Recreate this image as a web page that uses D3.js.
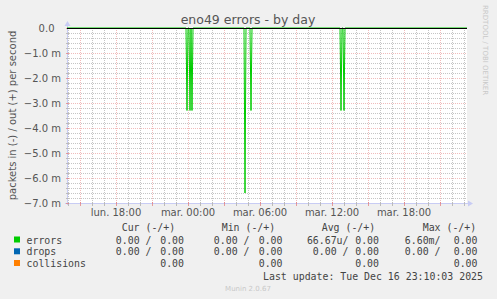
<!DOCTYPE html>
<html>
<head>
<meta charset="utf-8">
<script src="https://cdn.jsdelivr.net/npm/d3@7"></script>
<style>
  body { margin: 0; background: #f0f0f0; }
  svg { display: block; }
  text { font-family: "DejaVu Sans", sans-serif; }
  .mono { font-family: "DejaVu Sans Mono", monospace; font-size: 9.9px; fill: #444; }
</style>
</head>
<body>
<div id="chart"></div>
<script>
// Svg defs
let w = 497,
    h = 299;
let plot = { x0: 67, x1: 467, y0: 28, y1: 203 };

// Data defs
let title = "eno49 errors - by day";
let yLabel = "packets in (-) / out (+) per second";
let startTime = "2025-12-15 13:55";
let endTime = "2025-12-16 23:15";
// error spikes on the "in" side (packets/s, drawn negative)
let errorTimes = ["2025-12-15 23:55", "2025-12-16 00:10", "2025-12-16 00:20",
                  "2025-12-16 04:45", "2025-12-16 05:15",
                  "2025-12-16 12:45", "2025-12-16 13:00"];
let errorValues = [-0.0033, -0.0033, -0.0033, -0.0066, -0.0033, -0.0033, -0.0033];
let yTicks = [0, -0.001, -0.002, -0.003, -0.004, -0.005, -0.006, -0.007];
let xLabelTimes = ["2025-12-15 18:00", "2025-12-16 00:00", "2025-12-16 06:00",
                   "2025-12-16 12:00", "2025-12-16 18:00"];

// Legend
let legendNames = ["errors", "drops", "collisions"];
let legendColors = ["#00cc00", "#0066b3", "#ff8000"];
let legendHeaders = ["Cur (-/+)", "Min (-/+)", "Avg (-/+)", "Max (-/+)"];
let legendIn = [
  ["0.00 /", "0.00 /", "66.67u/", "6.60m/"],
  ["0.00 /", "0.00 /", "0.00 /", "0.00 /"],
  null
];
let legendOut = [
  ["0.00", "0.00", "0.00", "0.00"],
  ["0.00", "0.00", "0.00", "0.00"],
  ["0.00", "0.00", "0.00", "0.00"]
];
let lastUpdate = "Last update: Tue Dec 16 23:10:03 2025";

let parse = d3.timeParse("%Y-%m-%d %H:%M");
let fr = d3.timeFormatLocale({
  dateTime: "%A %e %B %Y à %X", date: "%d/%m/%Y", time: "%H:%M:%S",
  periods: ["AM", "PM"],
  days: ["dimanche","lundi","mardi","mercredi","jeudi","vendredi","samedi"],
  shortDays: ["dim.","lun.","mar.","mer.","jeu.","ven.","sam."],
  months: ["janvier","février","mars","avril","mai","juin","juillet","août","septembre","octobre","novembre","décembre"],
  shortMonths: ["janv.","févr.","mars","avr.","mai","juin","juil.","août","sept.","oct.","nov.","déc."]
});
let fmt = fr.format("%a %H:%M");

let x = d3.scaleTime()
  .domain([parse(startTime), parse(endTime)])
  .range([plot.x0, plot.x1]);
let y = d3.scaleLinear()
  .domain([-0.007, 0])
  .range([plot.y1, plot.y0]);

let svg = d3.select("#chart")
  .append("svg")
  .attr("width", w)
  .attr("height", h)
  .attr("viewBox", [0, 0, w, h]);

svg.append("rect").attr("width", w).attr("height", h).attr("fill", "#f0f0f0");
svg.append("rect")
  .attr("x", plot.x0).attr("y", plot.y0)
  .attr("width", plot.x1 - plot.x0).attr("height", plot.y1 - plot.y0)
  .attr("fill", "#ffffff");

// Grid
let px = (t) => Math.round(x(t)) + 0.5;
let py = (v) => Math.round(y(v)) + 0.5;
let hours = d3.timeHour.every(1).range(...x.domain());
let minorY = d3.range(0, 36).map((i) => -i * 0.0002);
let minorColor = "rgba(150,150,150,0.55)";
let majorColor = "rgba(225,120,120,0.5)";

let grid = svg.append("g").attr("stroke-dasharray", "1,1").attr("stroke-width", 1);
grid.selectAll(".vmin")
  .data(hours.filter((d) => d.getHours() % 3 != 0))
  .join("line")
  .attr("x1", px).attr("x2", px)
  .attr("y1", plot.y0).attr("y2", plot.y1)
  .attr("stroke", minorColor);
grid.selectAll(".hmin")
  .data(minorY.filter((d, i) => i % 5 != 0))
  .join("line")
  .attr("x1", plot.x0).attr("x2", plot.x1)
  .attr("y1", py).attr("y2", py)
  .attr("stroke", minorColor);
grid.selectAll(".vmaj")
  .data(hours.filter((d) => d.getHours() % 3 == 0))
  .join("line")
  .attr("x1", px).attr("x2", px)
  .attr("y1", plot.y0).attr("y2", plot.y1)
  .attr("stroke", majorColor);
grid.selectAll(".hmaj")
  .data(yTicks)
  .join("line")
  .attr("x1", plot.x0).attr("x2", plot.x1)
  .attr("y1", py).attr("y2", py)
  .attr("stroke", majorColor);

// Axes
let axisColor = "#c8ccf4";
let ax = svg.append("g").attr("stroke", axisColor).attr("fill", axisColor);
ax.append("line")
  .attr("x1", plot.x0 + 0.5).attr("x2", plot.x0 + 0.5)
  .attr("y1", plot.y1 + 2).attr("y2", plot.y0 - 4);
ax.append("path")
  .attr("stroke", "none")
  .attr("d", `M${plot.x0 - 2.5},${plot.y0 - 2} L${plot.x0 + 0.5},${plot.y0 - 7} L${plot.x0 + 3.5},${plot.y0 - 2}Z`);
ax.append("line")
  .attr("x1", plot.x0 - 2).attr("x2", plot.x1 + 3)
  .attr("y1", plot.y1 + 0.5).attr("y2", plot.y1 + 0.5);
ax.append("path")
  .attr("stroke", "none")
  .attr("d", `M${plot.x1 + 1},${plot.y1 - 2.5} L${plot.x1 + 6},${plot.y1 + 0.5} L${plot.x1 + 1},${plot.y1 + 3.5}Z`);
ax.selectAll(".xt")
  .data(hours)
  .join("line")
  .attr("x1", px).attr("x2", px)
  .attr("y1", plot.y1 - 1).attr("y2", plot.y1 + 3)
  .attr("stroke", (d) => d.getHours() % 3 == 0 ? "rgba(225,120,120,0.7)" : "#bbb");
ax.selectAll(".yt")
  .data(minorY)
  .join("line")
  .attr("x1", plot.x0 - 1).attr("x2", plot.x0 + 2)
  .attr("y1", py).attr("y2", py)
  .attr("stroke", (d, i) => i % 5 == 0 ? "rgba(225,120,120,0.7)" : "#bbb");

// Error series (in side)
let step = 5 * 60 * 1000;
let pts = [[x.domain()[0], 0]];
errorTimes.forEach((t, i) => {
  let d = parse(t);
  pts.push([new Date(+d - step), 0], [d, errorValues[i]], [new Date(+d + step), 0]);
});
pts.push([x.domain()[1], 0]);
svg.append("path")
  .datum(pts)
  .attr("fill", "none")
  .attr("stroke", legendColors[0])
  .attr("stroke-width", 1)
  .attr("d", d3.line().x((d) => x(d[0])).y((d) => y(d[1])));

// Zero line
svg.append("line")
  .attr("x1", plot.x0).attr("x2", plot.x1)
  .attr("y1", py(0)).attr("y2", py(0))
  .attr("stroke", "#000").attr("stroke-width", 1);

// Tick labels
svg.append("g")
  .selectAll("text")
  .data(yTicks)
  .join("text")
  .attr("x", (d) => d == 0 ? 54.5 : 61)
  .attr("y", (d) => y(d) + 3.5)
  .attr("text-anchor", "end")
  .attr("font-size", 10)
  .attr("fill", "#555")
  .text((d) => d == 0 ? "0.0" : d3.format(".1f")(d * 1000) + " m");

svg.append("g")
  .selectAll("text")
  .data(xLabelTimes.map(parse))
  .join("text")
  .attr("x", (d) => x(d))
  .attr("y", 216)
  .attr("text-anchor", "middle")
  .attr("font-size", 10)
  .attr("fill", "#555")
  .text(fmt);

// Title and side texts
svg.append("text")
  .attr("x", 248).attr("y", 23.5)
  .attr("text-anchor", "middle")
  .attr("font-size", 12.5)
  .attr("fill", "#555")
  .text(title);
svg.append("text")
  .attr("transform", `translate(15.5,${(plot.y0 + plot.y1) / 2}) rotate(-90)`)
  .attr("text-anchor", "middle")
  .attr("font-size", 10)
  .attr("fill", "#555")
  .text(yLabel);
svg.append("text")
  .attr("transform", "translate(483,5) rotate(90)")
  .attr("text-anchor", "start")
  .attr("font-size", 7)
  .attr("fill", "#c8c8c8")
  .text("RRDTOOL / TOBI OETIKER");

// Legend
let headX = [121.7, 221.7, 321.7, 422.7];
let inEnd = [151.5, 249.5, 348.5, 440.5];
let outEnd = [184, 282.5, 379, 477.5];
let rowY = [243.5, 255.3, 267];

let lg = svg.append("g");
lg.selectAll(".hd")
  .data(legendHeaders)
  .join("text")
  .attr("class", "mono")
  .attr("x", (d, i) => headX[i]).attr("y", 231)
  .text((d) => d);

legendNames.forEach((name, r) => {
  lg.append("rect")
    .attr("x", 14).attr("y", rowY[r] - 7)
    .attr("width", 6).attr("height", 6)
    .attr("fill", legendColors[r]);
  lg.append("text")
    .attr("class", "mono")
    .attr("x", 26.5).attr("y", rowY[r])
    .text(name);
  if (legendIn[r]) {
    lg.selectAll(".in" + r)
      .data(legendIn[r])
      .join("text")
      .attr("class", "mono")
      .attr("x", (d, i) => inEnd[i]).attr("y", rowY[r])
      .attr("text-anchor", "end")
      .text((d) => d);
  }
  lg.selectAll(".out" + r)
    .data(legendOut[r])
    .join("text")
    .attr("class", "mono")
    .attr("x", (d, i) => outEnd[i]).attr("y", rowY[r])
    .attr("text-anchor", "end")
    .text((d) => d);
});

lg.append("text")
  .attr("class", "mono")
  .attr("x", 483).attr("y", 279.5)
  .attr("text-anchor", "end")
  .text(lastUpdate);

svg.append("text")
  .attr("x", 248).attr("y", 291)
  .attr("text-anchor", "middle")
  .attr("font-size", 7)
  .attr("fill", "#c8c8c8")
  .text("Munin 2.0.67");
</script>
</body>
</html>
